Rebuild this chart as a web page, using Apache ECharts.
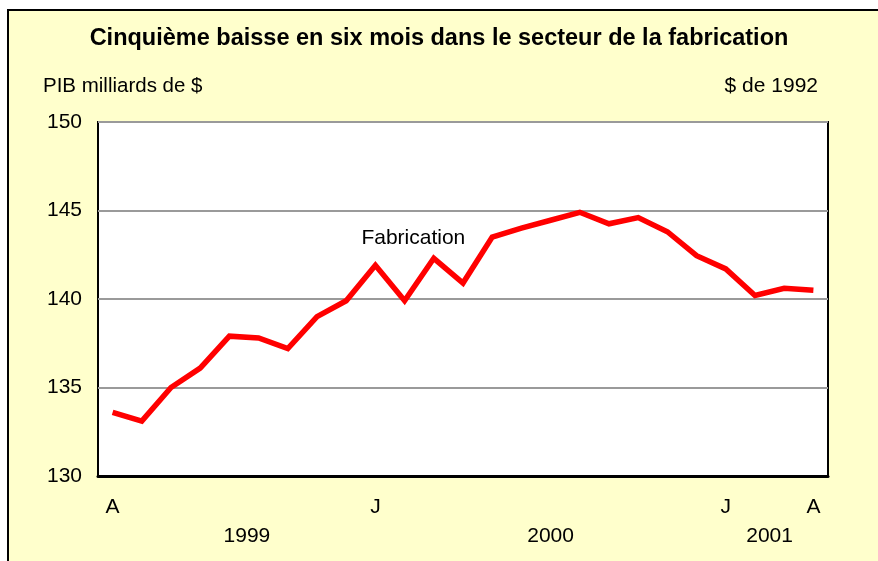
<!DOCTYPE html>
<html>
<head>
<meta charset="utf-8">
<script src="https://cdn.jsdelivr.net/npm/echarts@6/dist/echarts.min.js"></script>
<style>
  html, body { margin: 0; padding: 0; background: #fff; }
  #chart { width: 878px; height: 561px; }
</style>
</head>
<body>
<div id="chart"></div>
<script>
// Monthly GDP, manufacturing, April 1999 to April 2001
const months = ['A', 'M', 'J', 'J', 'A', 'S', 'O', 'N', 'D',
  'J', 'F', 'M', 'A', 'M', 'J', 'J', 'A', 'S', 'O', 'N', 'D',
  'J', 'F', 'M', 'A'];
const shownMonths = [0, 9, 21, 24];
const fabrication = [133.6, 133.1, 135.0, 136.1, 137.9, 137.8, 137.2, 139.0, 139.9,
  141.9, 139.9, 142.3, 140.9, 143.5, 144.0, 144.45, 144.9, 144.25, 144.6, 143.8,
  142.45, 141.7, 140.2, 140.6, 140.5];
const years = ['1999', '2000', '2001'];
const yearPos = [4.6, 15.0, 22.5];

const font = 'Liberation Sans, Arial, sans-serif';
const myChart = echarts.init(document.getElementById('chart'));

const option = {
  backgroundColor: '#ffffff',
  animation: false,
  title: [
    {
      text: 'Cinquième baisse en six mois dans le secteur de la fabrication',
      left: 'center',
      top: 22,
      textStyle: { fontFamily: font, fontSize: 23.5, fontWeight: 'bold', color: '#000' }
    },
    {
      text: 'PIB milliards de $',
      left: 38,
      top: 71,
      textStyle: { fontFamily: font, fontSize: 20.5, fontWeight: 'normal', color: '#000' }
    },
    {
      text: '$ de 1992',
      right: 55,
      top: 71,
      textStyle: { fontFamily: font, fontSize: 21, fontWeight: 'normal', color: '#000' }
    }
  ],
  grid: {
    left: 98,
    right: 50,
    top: 122,
    bottom: 85,
    show: true,
    backgroundColor: '#ffffff',
    borderColor: '#000',
    borderWidth: 2
  },
  xAxis: {
    type: 'category',
    data: months,
    boundaryGap: true,
    axisLine: { lineStyle: { color: '#000', width: 3 } },
    axisTick: {
      inside: true,
      length: 6,
      interval: 0,
      lineStyle: { color: '#000', width: 2 }
    },
    axisLabel: {
      interval: function (index) { return shownMonths.indexOf(index) >= 0; },
      margin: 21,
      fontFamily: font,
      fontSize: 21,
      color: '#000'
    },
    splitLine: { show: false }
  },
  yAxis: {
    type: 'value',
    min: 130,
    max: 150,
    interval: 5,
    axisLine: { show: false },
    axisTick: { show: false },
    axisLabel: { margin: 16, fontFamily: font, fontSize: 21, color: '#000' },
    splitLine: { lineStyle: { color: '#9a9a9a', width: 2 } }
  },
  series: [
    {
      name: 'Fabrication',
      type: 'line',
      data: fabrication,
      symbol: 'none',
      lineStyle: { color: '#ff0000', width: 5.5, join: 'miter' },
      z: 3
    }
  ]
};

myChart.setOption(option);

// position helper: fractional category position and value -> pixel
function toPx(cat, value) {
  const a = myChart.convertToPixel({ gridIndex: 0 }, [0, value]);
  const b = myChart.convertToPixel({ gridIndex: 0 }, [1, value]);
  return [a[0] + (b[0] - a[0]) * cat, a[1]];
}

const graphics = [
  {
    type: 'rect',
    z: -10,
    silent: true,
    shape: { x: 8, y: 10, width: 900, height: 600 },
    style: { fill: '#ffffcc', stroke: '#000', lineWidth: 2 }
  }
];
const axisY = toPx(0, 130)[1];
years.forEach(function (y, i) {
  const p = toPx(yearPos[i], 130);
  graphics.push({
    type: 'text',
    x: p[0],
    y: axisY + 60,
    style: {
      text: y, fontFamily: font, fontSize: 21, fill: '#000',
      textAlign: 'center', textVerticalAlign: 'middle'
    }
  });
});
const lab = toPx(10.3, 143.45);
graphics.push({
  type: 'text',
  x: lab[0],
  y: lab[1],
  z: 10,
  style: {
    text: 'Fabrication', fontFamily: font, fontSize: 21, fill: '#000',
    textAlign: 'center', textVerticalAlign: 'middle'
  }
});

myChart.setOption({ graphic: graphics });
</script>
</body>
</html>
